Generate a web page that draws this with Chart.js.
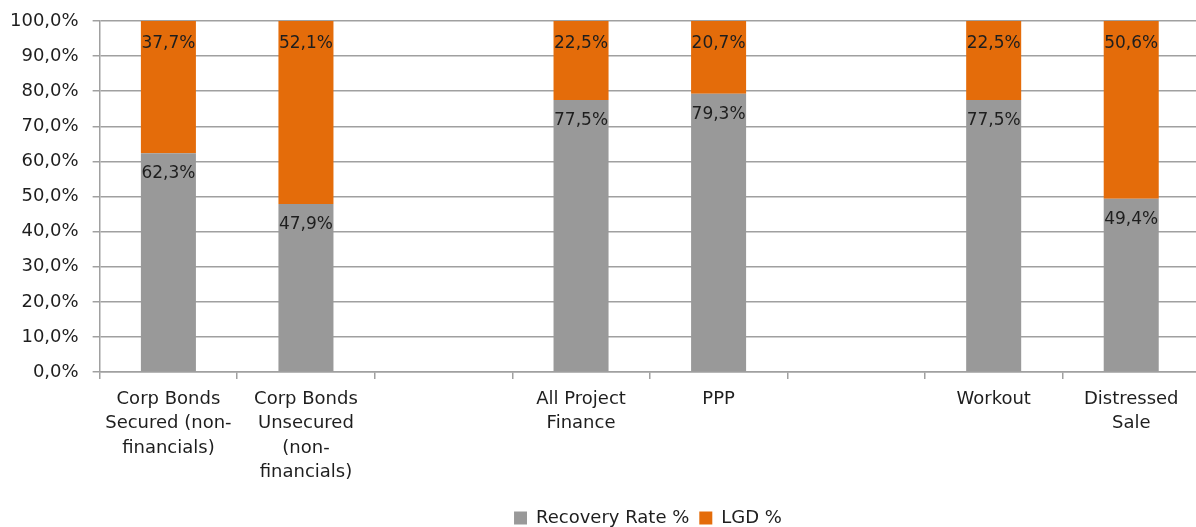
<!DOCTYPE html>
<html>
<head>
<meta charset="utf-8">
<script src="https://cdn.jsdelivr.net/npm/chart.js@4"></script>
<style>
  html, body { margin: 0; padding: 0; overflow: hidden; background: #fff; }
  #wrap { width: 1204px; height: 527px; position: relative; }
</style>
</head>
<body>
<div id="wrap"><canvas id="lgdChart"></canvas></div>
<script>
const categories = [
  ["Corp Bonds", "Secured (non-", "financials)"],
  ["Corp Bonds", "Unsecured", "(non-", "financials)"],
  "",
  ["All Project", "Finance"],
  "PPP",
  "",
  "Workout",
  ["Distressed", "Sale"]
];
const recoveryRate = [62.3, 47.9, null, 77.5, 79.3, null, 77.5, 49.4];
const lgd = [37.7, 52.1, null, 22.5, 20.7, null, 22.5, 50.6];
const yTicks = [0, 10, 20, 30, 40, 50, 60, 70, 80, 90, 100];

const fmt = v => v.toFixed(1).replace(".", ",") + "%";
const FONT = "'DejaVu Sans', sans-serif";

// draws the value inside each segment, near its top
const barLabels = {
  id: "barLabels",
  afterDatasetsDraw(chart) {
    const ctx = chart.ctx;
    ctx.save();
    ctx.font = "17px " + FONT;
    ctx.fillStyle = "#1e1e1e";
    ctx.textAlign = "center";
    ctx.textBaseline = "middle";
    chart.data.datasets.forEach((ds, i) => {
      const off = i === 0 ? 20.5 : 22.5;
      chart.getDatasetMeta(i).data.forEach((bar, j) => {
        const v = ds.data[j];
        if (v == null) return;
        ctx.fillText(fmt(v), bar.x, bar.y + off);
      });
    });
    ctx.restore();
  }
};

// legend in the reference sits a bit right of centre
const legendShift = {
  id: "legendShift",
  afterLayout(chart) {
    chart.legend.left += 100;
  }
};

new Chart(document.getElementById("lgdChart").getContext("2d"), {
  type: "bar",
  data: {
    labels: categories,
    datasets: [
      { label: "Recovery Rate %", data: recoveryRate, backgroundColor: "#999999" },
      { label: "LGD %", data: lgd, backgroundColor: "#e46c0a" }
    ]
  },
  options: {
    responsive: true,
    maintainAspectRatio: false,
    animation: false,
    layout: { padding: { top: 21, right: 4, left: -4, bottom: -10 } },
    datasets: { bar: { barPercentage: 0.8, categoryPercentage: 0.5 } },
    scales: {
      x: {
        stacked: true,
        offset: true,
        grid: { offset: true, drawOnChartArea: false, drawTicks: true, tickLength: 7, color: "#a0a0a0", lineWidth: 1.5 },
        border: { color: "#a0a0a0", width: 1.5 },
        ticks: { font: { family: FONT, size: 18, lineHeight: 1.36 }, color: "#1e1e1e", maxRotation: 0, autoSkip: false, padding: 8 },
        afterFit: s => { s.height += 6; }
      },
      y: {
        stacked: true,
        min: 0,
        max: 100,
        afterBuildTicks: axis => { axis.ticks = yTicks.map(v => ({ value: v })); },
        afterFit: s => { s.paddingTop = 0; s.paddingBottom = 0; },
        grid: { color: "#a0a0a0", lineWidth: 1.5, tickLength: 7 },
        border: { color: "#a0a0a0", width: 1.5 },
        ticks: { font: { family: FONT, size: 18 }, color: "#1e1e1e", padding: 14, callback: v => fmt(v) }
      }
    },
    plugins: {
      legend: {
        position: "bottom",
        labels: { boxWidth: 13, boxHeight: 13, padding: 10, font: { family: FONT, size: 18 }, color: "#1e1e1e" }
      },
      tooltip: { enabled: false }
    }
  },
  plugins: [barLabels, legendShift]
});
</script>
</body>
</html>
